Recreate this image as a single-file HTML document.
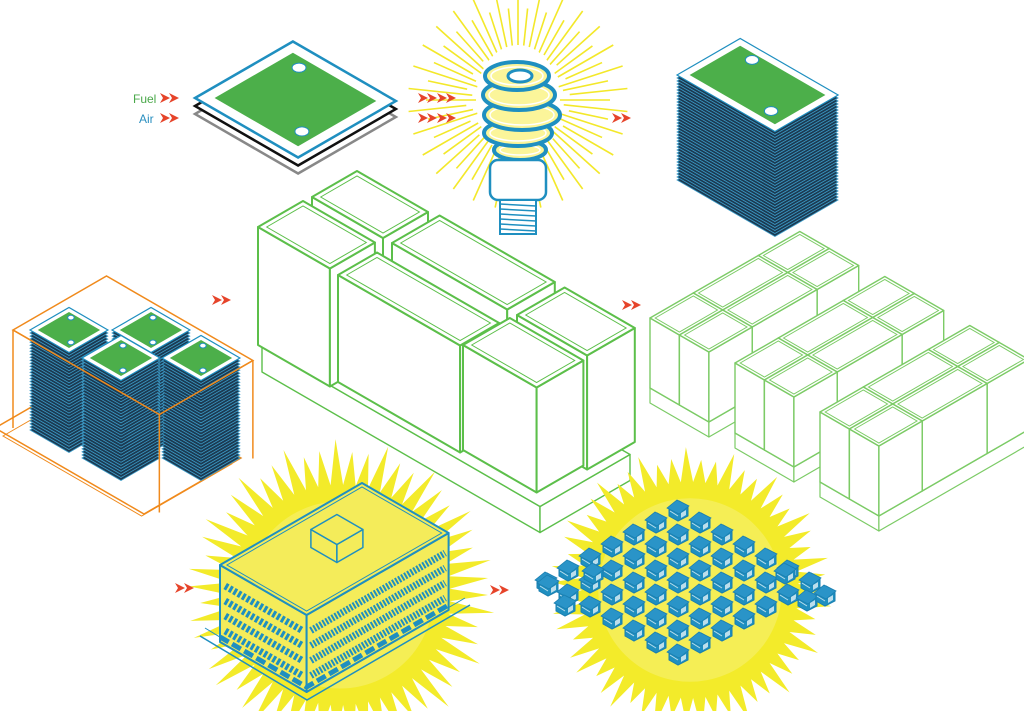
<!DOCTYPE html>
<html><head><meta charset="utf-8"><style>
html,body{margin:0;padding:0;background:#fff;width:1024px;height:711px;overflow:hidden}
svg{display:block}
</style></head><body>
<svg id="s" width="1024" height="711" viewBox="0 0 1024 711" xmlns="http://www.w3.org/2000/svg">
<text x="133" y="103" font-family="Liberation Sans, sans-serif" font-size="12" fill="#4aa84a">Fuel</text>
<text x="139" y="123" font-family="Liberation Sans, sans-serif" font-size="12" fill="#2a8fc0">Air</text>
</svg>
<script>
var S=document.getElementById('s'),NS='http://www.w3.org/2000/svg';
function el(t,a,p){var e=document.createElementNS(NS,t);for(var k in a)e.setAttribute(k,a[k]);(p||S).appendChild(e);return e;}
function P(o,a,b,z){return [o[0]+(a+b)*0.866,o[1]+(a-b)*0.5-z];}
function pts(l){return l.map(function(p){return p[0].toFixed(1)+','+p[1].toFixed(1)}).join(' ');}
function poly(l,a){a=a||{};a.points=pts(l);return el('polygon',a);}
function dia(o,a,b,z){return [P(o,0,0,z),P(o,0,b,z),P(o,a,b,z),P(o,a,0,z)];}
function box(o,a,b,h,st,fill,top,sw){
 var at={fill:fill,stroke:st,'stroke-width':sw||1.6,'stroke-linejoin':'round'};
 poly([P(o,0,0,h),P(o,a,0,h),P(o,a,0,0),P(o,0,0,0)],Object.assign({},at));
 poly([P(o,a,0,h),P(o,a,b,h),P(o,a,b,0),P(o,a,0,0)],Object.assign({},at));
 poly(dia(o,a,b,h),Object.assign({},at,{fill:top||fill}));
}
function tbox(T,a,b,h,st,sw,inset){
 var o=[T[0],T[1]+h];box(o,a,b,h,st,'#fff',null,sw);
 if(inset){var o2=P(o,inset,inset,0);poly(dia(o2,a-2*inset,b-2*inset,h),{fill:'none',stroke:st,'stroke-width':1});}
}
function plate(o,a,b,z,sw){
 poly(dia(o,a,b,z),{fill:'#fff',stroke:'#1f8fc0','stroke-width':sw||1.5});
 var i=Math.min(a,b)*0.1;
 var o2=P(o,i,i,0);
 poly(dia(o2,a-2*i,b-2*i,z),{fill:'#4caf4a'});
 var c1=P(o,a*0.25,b*0.8,z),c2=P(o,a*0.8,b*0.25,z);
 el('ellipse',{cx:c1[0],cy:c1[1],rx:a*0.05+1,ry:a*0.03+1,fill:'#fff',stroke:'#1f8fc0'});
 el('ellipse',{cx:c2[0],cy:c2[1],rx:a*0.05+1,ry:a*0.03+1,fill:'#fff',stroke:'#1f8fc0'});
}
function stack(o,a,b,n,sp){
 sp=sp||3;
 for(var i=0;i<n;i++){poly(dia(o,a,b,i*sp),{fill:'#1b3a52',stroke:'#3d9cc8','stroke-width':0.8});}
 plate(o,a,b,n*sp,1.2);
}
function arrows(x,y){
 for(var k=0;k<2;k++){var X=x+k*9;poly([[X,y-5],[X+10,y],[X,y+5],[X+3,y]],{fill:'#e6442a'});}
}
function burst(cx,cy,r1,r2,n){
 var l=[];for(var i=0;i<n*2;i++){var ang=i*Math.PI/n;var r=(i%2?r1:r2+(Math.sin(i*7.3)*8));l.push([cx+r*Math.cos(ang),cy+r*Math.sin(ang)]);}
 poly(l,{fill:'#f3eb2a'});
 el('circle',{cx:cx,cy:cy,r:r1*0.85,fill:'#f5ee55'});
}
// ---- top-left plate
var o=[195,98];
poly(dia([195,114],119,113,0),{fill:'#fff',stroke:'#888','stroke-width':2.5});
poly(dia([195,106],119,113,0),{fill:'#fff',stroke:'#111','stroke-width':2.5});
plate(o,119,113,0,2.5);
arrows(160,98);arrows(160,118);
// ---- bulb
var bx=518,by=100;
for(var i=0;i<60;i++){var g=i*6*Math.PI/180;var r1=40+(i%3)*6,r2=80+(i%2?30:12);
 el('line',{x1:bx+r1*Math.cos(g),y1:by+r1*Math.sin(g),x2:bx+r2*Math.cos(g),y2:by+r2*Math.sin(g),stroke:'#f3e82a','stroke-width':1.6});}
el('ellipse',{cx:bx,cy:by,rx:42,ry:55,fill:'#fff'});
[[520,150,26,10],[518,133,34,13],[522,115,38,15],[519,95,36,15],[517,76,32,14]].forEach(function(e){
 el('ellipse',{cx:e[0],cy:e[1],rx:e[2],ry:e[3],fill:'#fbf59a',stroke:'#1f8fc0','stroke-width':4});
 el('ellipse',{cx:e[0],cy:e[1],rx:e[2]-6,ry:e[3]-5,fill:'none',stroke:'#fff','stroke-width':1.5});});
el('ellipse',{cx:520,cy:76,rx:12,ry:6,fill:'#fff',stroke:'#1f8fc0','stroke-width':3});
el('rect',{x:490,y:160,width:56,height:40,rx:8,fill:'#fff',stroke:'#1f8fc0','stroke-width':2.5});
el('rect',{x:500,y:200,width:36,height:34,fill:'#fff',stroke:'#1f8fc0','stroke-width':2});
for(var y=204;y<234;y+=5)el('line',{x1:500,y1:y,x2:536,y2:y+2,stroke:'#1f8fc0','stroke-width':1.5});
arrows(418,98);arrows(437,98);arrows(418,118);arrows(437,118);arrows(612,118);
// ---- top-right stack
stack([677,180],113,73,35,3);
// ---- big cabinet assembly
var G='#5cbf4a';
box([262,372],321,104,26,G,'#fff',null,1.4);
tbox([312,197],82,52,115,G,2,5);
tbox([258,227],83,52,118,G,2,5);
tbox([392,243],133,55,112,G,2,5);
tbox([517,315],81,55,114,G,2,5);
tbox([338,275],141,45,107,G,2,5);
tbox([463,345],85,54,105,G,2,5);
arrows(212,300);arrows(622,305);
// ---- right units
var LG='#7ccb66';
[[650,318],[735,363],[820,412]].forEach(function(T){
 var h=70,pl=15,A=68,Bb=173;
 var o=[T[0],T[1]+h+pl];
 box(o,A,Bb,pl,LG,'#fff',null,1.2);
 var oo=[o[0],o[1]-pl];
 var bs=[[0,50],[50,75],[125,48]],as=[[0,34],[34,34]];
 for(var j=2;j>=0;j--)for(var i=0;i<2;i++){
  var p=P(oo,as[i][0],bs[j][0],0);var ta=[p[0],p[1]-h];
  tbox(ta,as[i][1],bs[j][1],h,LG,1.4,3);}
});
// ---- orange container + stacks
var Or='#f08a1c';
poly(dia([-5,428],172,112,0),{fill:'none',stroke:Or,'stroke-width':1.5});
poly(dia([3,436],160,104,0),{fill:'none',stroke:Or,'stroke-width':1});
poly(dia([13,330],169,108,0),{fill:'none',stroke:Or,'stroke-width':1.5});
[[30,330],[112,330],[82,358],[162,358]].forEach(function(p){stack([p[0],p[1]+100],45,45,33,3.03);});
var tl=[13,330];
[P(tl,0,0,0),P(tl,169,0,0),P(tl,169,108,0)].forEach(function(p){el('line',{x1:p[0],y1:p[1],x2:p[0],y2:p[1]+98,stroke:Or,'stroke-width':1.5});});
el('polyline',{points:pts([P(tl,0,0,0),P(tl,169,0,0),P(tl,169,108,0)]),fill:'none',stroke:Or,'stroke-width':1.5});
// ---- bottom bursts
burst(340,595,110,148,55);
burst(690,590,108,135,55);
arrows(175,588);arrows(490,590);
// building
var B='#1f8fc0',bo=[220,642];
el('polyline',{points:'200,636 307,700 470,605',fill:'none',stroke:B,'stroke-width':1.5});
el('polyline',{points:'205,628 307,690 465,598',fill:'none',stroke:B,'stroke-width':1});
box(bo,100,164,77,B,'#f4ec5a','#f4ec5a',2);
poly(dia(P(bo,4,4,0),92,156,77),{fill:'none',stroke:B,'stroke-width':1});
for(var z=14;z<72;z+=15){
 var p1=P(bo,6,0,z),p2=P(bo,95,0,z),p3=P(bo,100,5,z),p4=P(bo,100,160,z);
 el('line',{x1:p1[0],y1:p1[1],x2:p2[0],y2:p2[1],stroke:B,'stroke-width':7,'stroke-dasharray':'3 2'});
 el('line',{x1:p3[0],y1:p3[1],x2:p4[0],y2:p4[1],stroke:B,'stroke-width':7,'stroke-dasharray':'2 1.5'});
}
var q1=P(bo,0,0,5),q2=P(bo,100,0,5),q4=P(bo,100,164,5);
el('polyline',{points:pts([q1,q2,q4]),fill:'none',stroke:B,'stroke-width':5,'stroke-dasharray':'10 4'});
box(P(bo,35,70,77),30,30,18,B,'#f4ec5a','#f4ec5a',1.5);
// houses
function house(x,y){
 poly([[x-9,y-3],[x+1,y-9],[x+10,y-4],[x+10,y+6],[x,y+11],[x-9,y+6]],{fill:'#1f8fc0',stroke:'#1a7fb0','stroke-width':1});
 poly([[x-11,y-2],[x-1,y-10],[x+11,y-4],[x+1,y+4]],{fill:'#2a94c8',stroke:'#1a7fb0','stroke-width':0.8});
 poly([[x+3,y+3],[x+8,y],[x+8,y+5],[x+3,y+8]],{fill:'#fff','fill-opacity':0.7});
 el('line',{x1:x-8,y1:y+1,x2:x,y2:y+6,stroke:'#fff','stroke-width':1,'stroke-opacity':0.7});
}
for(var i=0;i<7;i++)for(var j=0;j<7;j++){
 house(678+(i-j)*22,510+(i+j)*12);
}
[[548,585],[565,605],[807,600],[825,595],[593,573],[785,573]].forEach(function(h){house(h[0],h[1]);});
</script>
</body></html>
